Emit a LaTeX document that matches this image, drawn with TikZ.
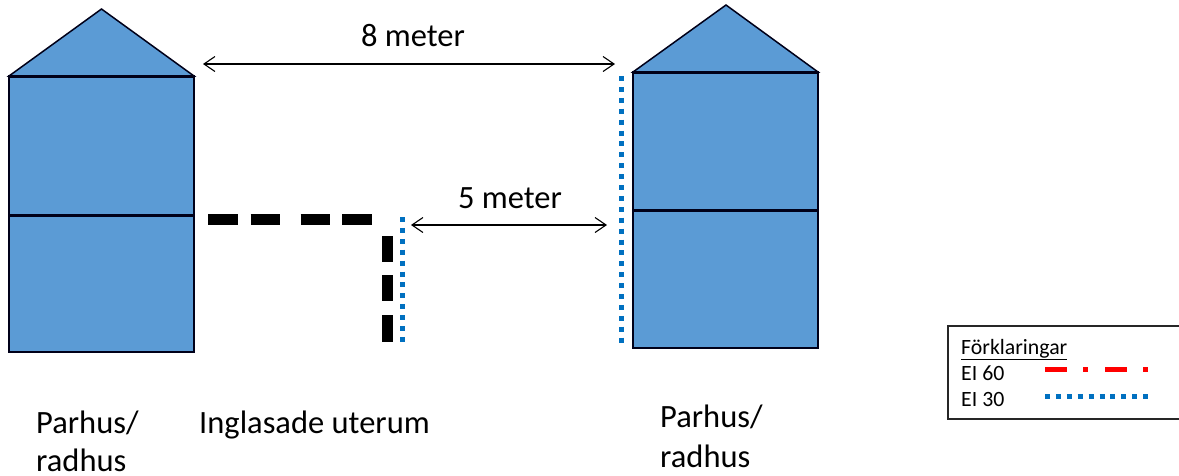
\documentclass[tikz,border=0pt]{standalone}
\usepackage{fontspec}
\setmainfont{Carlito}
\usetikzlibrary{arrows.meta}
\definecolor{housefill}{HTML}{5B9BD5}
\definecolor{dotblue}{HTML}{0070C0}
\tikzset{
  x=1pt,y=-1pt,
  house/.style={draw=black!90!blue,fill=housefill,line width=1.5pt},
  floorline/.style={draw=black!90!blue,line width=3pt},
  dimline/.style={{Straight Barb[length=11pt,width=15pt,line width=1.1pt]}-{Straight Barb[length=11pt,width=15pt,line width=1.1pt]},line width=1.1pt},
  lab/.style={anchor=base west,inner sep=0pt,font=\fontsize{32.5}{32.5}\selectfont},
  dimlab/.style={anchor=base,inner sep=0pt,font=\fontsize{32.5}{32.5}\selectfont},
  leglab/.style={anchor=base west,inner sep=0pt,font=\fontsize{21.8}{21.8}\selectfont},
  blackdash/.style={line width=11pt,black},
  bluedots/.style={line width=5pt,dotblue,dash pattern=on 5pt off 5.9pt},
  reddash/.style={line width=5pt,red,dash pattern=on 22pt off 16pt on 5pt off 17pt},
}
\begin{document}
\begin{tikzpicture}
\useasboundingbox (0,0) rectangle (1179,475);
\clip (0,0) rectangle (1179,475);
% left house
\coordinate (lTL) at (9,76); \coordinate (lTR) at (194,76);
\coordinate (lBL) at (9,352); \coordinate (lBR) at (194,352);
\coordinate (lApex) at (101.5,9);
\coordinate (lML) at (9,215); \coordinate (lMR) at (194,215);
\path[house] (lTL) -- (lTR) -- (lBR) -- (lBL) -- cycle;
\path[house] (lTL) -- (lApex) -- (lTR) -- cycle;
\draw[floorline] (lTL) -- (lTR);
\draw[floorline] (lML) -- (lMR);
% right house
\coordinate (rTL) at (633,72); \coordinate (rTR) at (818,72);
\coordinate (rBL) at (633,348); \coordinate (rBR) at (818,348);
\coordinate (rApex) at (726,5);
\coordinate (rML) at (633,210); \coordinate (rMR) at (818,210);
\path[house] (rTL) -- (rTR) -- (rBR) -- (rBL) -- cycle;
\path[house] (rTL) -- (rApex) -- (rTR) -- cycle;
\draw[floorline] (rTL) -- (rTR);
\draw[floorline] (rML) -- (rMR);
% dimension arrows
\coordinate (a1) at (203,64); \coordinate (a2) at (615,64);
\coordinate (b1) at (411,225); \coordinate (b2) at (607,225);
\draw[dimline] (a1) -- (a2);
\draw[dimline] (b1) -- (b2);
\node[dimlab] (t8) at (413,46) {8 meter};
\node[dimlab] (t5) at (510,208) {5 meter};
% black dashes
\coordinate (h1) at (208,219.5); \coordinate (h2) at (238,219.5);
\coordinate (h3) at (250.5,219.5); \coordinate (h4) at (280,219.5);
\coordinate (h5) at (300.5,219.5); \coordinate (h6) at (330,219.5);
\coordinate (h7) at (342,219.5); \coordinate (h8) at (372,219.5);
\draw[blackdash] (h1) -- (h2);
\draw[blackdash] (h3) -- (h4);
\draw[blackdash] (h5) -- (h6);
\draw[blackdash] (h7) -- (h8);
\coordinate (v1) at (387.5,236); \coordinate (v2) at (387.5,262);
\coordinate (v3) at (387.5,275); \coordinate (v4) at (387.5,301);
\coordinate (v5) at (387.5,315); \coordinate (v6) at (387.5,342);
\draw[blackdash] (v1) -- (v2);
\draw[blackdash] (v3) -- (v4);
\draw[blackdash] (v5) -- (v6);
% blue dotted
\coordinate (d1) at (402,217); \coordinate (d2) at (402,343);
\coordinate (e1) at (621,76); \coordinate (e2) at (621,344);
\draw[bluedots] (d1) -- (d2);
\draw[bluedots] (e1) -- (e2);
% labels
\node[lab] (p1a) at (36,433) {Parhus/};
\node[lab] (p1b) at (36,471.5) {radhus};
\node[lab] (ing) at (199,433) {Inglasade uterum};
\node[lab] (p2a) at (660,427) {Parhus/};
\node[lab] (p2b) at (660,467) {radhus};
% legend
\coordinate (lg1) at (948,326); \coordinate (lg2) at (1195,419);
\draw[black!85,line width=1.2pt] (lg1) rectangle (lg2);
\node[leglab] (lf) at (961,354) {\underline{Förklaringar}};
\node[leglab] (l60) at (961,380) {EI 60};
\node[leglab] (l30) at (961,406) {EI 30};
\coordinate (r1) at (1045,369); \coordinate (r2) at (1149,369);
\coordinate (s1) at (1045,396); \coordinate (s2) at (1149,396);
\draw[reddash] (r1) -- (r2);
\draw[bluedots] (s1) -- (s2);
\end{tikzpicture}
\end{document}
